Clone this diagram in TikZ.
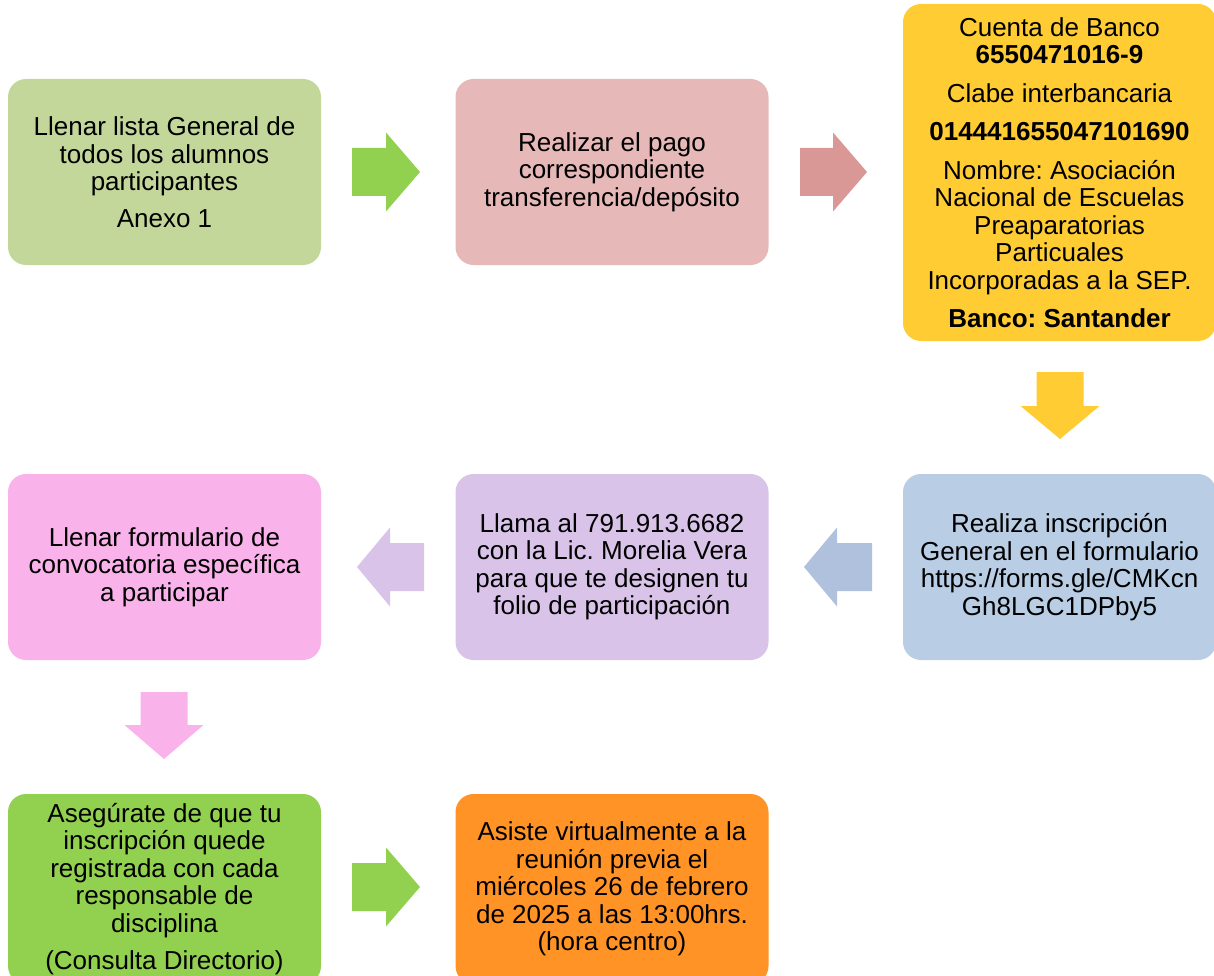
\documentclass[tikz,border=0pt]{standalone}
\usepackage{fontspec}
\setmainfont{Liberation Sans}
\frenchspacing
\definecolor{cA}{HTML}{C4D79B}
\definecolor{cAr}{HTML}{92D050}
\definecolor{cB}{HTML}{E6B9B8}
\definecolor{cBr}{HTML}{D99795}
\definecolor{cC}{HTML}{FFCC33}
\definecolor{cD}{HTML}{B9CDE5}
\definecolor{cDr}{HTML}{B0C1DD}
\definecolor{cE}{HTML}{D9C3E9}
\definecolor{cF}{HTML}{F9B3EA}
\definecolor{cG}{HTML}{92D050}
\definecolor{cH}{HTML}{FF9326}
\tikzset{
  box/.style={rounded corners=18pt, minimum width=313pt, minimum height=186pt,
    align=center, inner sep=0pt, font=\fontsize{26}{27.5}\selectfont\frenchspacing, text=black},
}
% right arrow: start x, head base x, tip x, center y, color
\newcommand\rarr[5]{\fill[#5] (#1,#4-24) -- (#2,#4-24) -- (#2,#4-39.5) -- (#3,#4) -- (#2,#4+39.5) -- (#2,#4+24) -- (#1,#4+24) -- cycle;}
% down arrow: center x, start y, head base y, tip y, color
\newcommand\darr[5]{\fill[#5] (#1-23.5,#2) -- (#1+23.5,#2) -- (#1+23.5,#3) -- (#1+39.5,#3) -- (#1,#4) -- (#1-39.5,#3) -- (#1-23.5,#3) -- cycle;}
\begin{document}
\begin{tikzpicture}[x=1pt,y=-1pt]
\useasboundingbox (0,0) rectangle (1214,976);
\node[box, fill=cA] (b1) at (164.5,172) {Llenar lista General de\\todos los alumnos\\participantes\\[9pt]Anexo 1};
\node[box, fill=cB] (b2) at (612,172) {Realizar el pago\\correspondiente\\transferencia/depósito};
\node[box, fill=cC, minimum height=337pt] (b3) at (1059.5,172.5) {Cuenta de Banco\\\textbf{6550471016-9}\\[11pt]Clabe interbancaria\\[11pt]\textbf{014441655047101690}\\[11pt]Nombre: Asociación\\Nacional de Escuelas\\Preaparatorias\\Particuales\\Incorporadas a la SEP.\\[11pt]\textbf{Banco: Santander}};
\node[box, fill=cD] (b4) at (1059.5,567) {Realiza inscripción\\General en el formulario\\https://forms.gle/CMKcn\\Gh8LGC1DPby5};
\node[box, fill=cE] (b5) at (612,567) {Llama al 791.913.6682\\con la Lic. Morelia Vera\\para que te designen tu\\folio de participación};
\node[box, fill=cF] (b6) at (164.5,567) {Llenar formulario de\\convocatoria específica\\a participar};
\node[box, fill=cG, minimum height=190pt] (b7) at (164.5,889) {Asegúrate de que tu\\inscripción quede\\registrada con cada\\responsable de\\disciplina\\[10pt](Consulta Directorio)};
\node[box, fill=cH, minimum height=190pt] (b8) at (612,889) {Asiste virtualmente a la\\reunión previa el\\miércoles 26 de febrero\\de 2025 a las 13:00hrs.\\(hora centro)};
\rarr{352}{386}{420}{172}{cAr}
\rarr{800}{833}{867}{172}{cBr}
\darr{1060}{372}{406}{439}{cC}
\rarr{872}{837}{804}{567}{cDr}
\rarr{424}{390}{357}{567}{cE}
\darr{164}{692}{725}{759}{cF}
\rarr{352}{386}{420}{887}{cG}
\end{tikzpicture}
\end{document}
